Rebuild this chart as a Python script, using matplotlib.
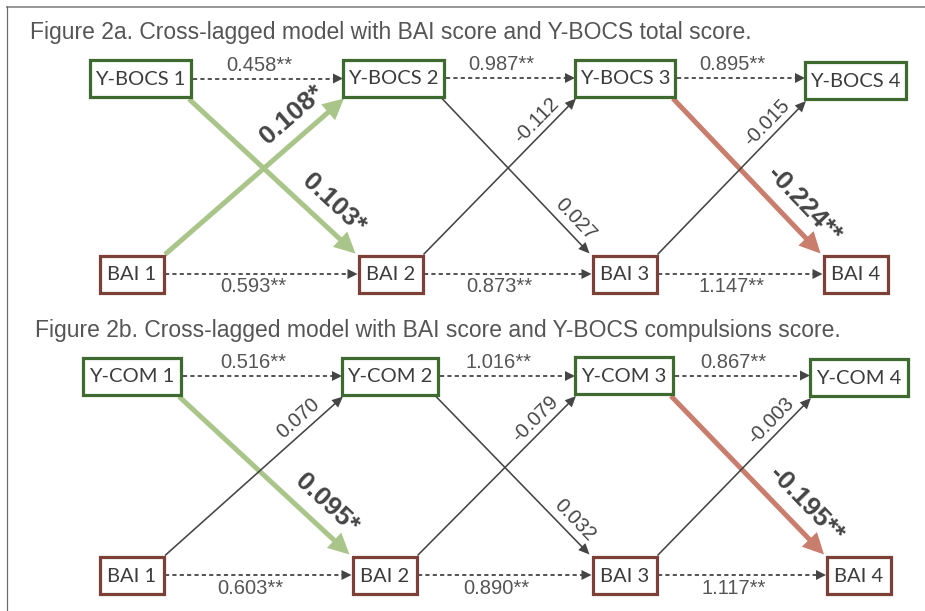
import numpy as np
import matplotlib
matplotlib.use("Agg")
import matplotlib.pyplot as plt
from matplotlib.patches import Rectangle, Polygon

# Data: node names and path coefficients
top_nodes_a = ["Y-BOCS 1", "Y-BOCS 2", "Y-BOCS 3", "Y-BOCS 4"]
top_nodes_b = ["Y-COM 1", "Y-COM 2", "Y-COM 3", "Y-COM 4"]
bai_nodes = ["BAI 1", "BAI 2", "BAI 3", "BAI 4"]

auto_top_a = [0.458, 0.987, 0.895]
auto_bai_a = [0.593, 0.873, 1.147]
cross_down_a = [0.103, 0.027, -0.224]   # Y-BOCS t -> BAI t+1
cross_up_a = [0.108, -0.112, -0.015]    # BAI t -> Y-BOCS t+1
auto_top_b = [0.516, 1.016, 0.867]
auto_bai_b = [0.603, 0.890, 1.117]
cross_down_b = [0.095, 0.032, -0.195]
cross_up_b = [0.070, -0.079, -0.003]

# significance stars
auto_stars = ["**", "**", "**"]
cross_down_stars_a = ["*", "", "**"]
cross_up_stars_a = ["*", "", ""]
cross_down_stars_b = ["*", "", "**"]
cross_up_stars_b = ["", "", ""]

title_a = "Figure 2a. Cross-lagged model with BAI score and Y-BOCS total score."
title_b = "Figure 2b. Cross-lagged model with BAI score and Y-BOCS compulsions score."

# Layout (pixel space) : box centres and sizes
top_cx_a = [140.5, 393.5, 625, 855.5]
top_cy_a = [78.5, 78, 78, 80.5]
top_w_a = [101, 101, 100, 101]
bai_cx_a = [132, 390.5, 624.5, 855.5]
bai_cy_a = [274, 274, 274, 274]
top_cx_b = [132, 390, 624, 859]
top_cy_b = [376, 376, 375.5, 377.5]
top_w_b = [98, 96, 98, 98]
bai_cx_b = [132, 384.5, 624.5, 859]
bai_cy_b = [575, 575, 575, 575]
bai_w = 64
box_h = 37

GREEN_BOX = "#3f6a2f"
RED_BOX = "#7d4038"
LIGHT_GREEN = "#a9c589"
SALMON = "#c97d6d"
DARK = "#454545"
TXT = "#555555"
PX = 0.72  # points per pixel at 100 dpi

fig = plt.figure(figsize=(9.25, 6.11), dpi=100)
ax = fig.add_axes([0, 0, 1, 1])
ax.set_xlim(0, 925)
ax.set_ylim(611, 0)
ax.axis("off")

# outer frame (top and left only)
ax.plot([6, 925], [6.5, 6.5], color="#9a9a9a", lw=2 * PX, solid_capstyle="butt")
ax.plot([6.5, 6.5], [6, 611], color="#6a6a6a", lw=1.2 * PX, solid_capstyle="butt")


def box(cx, cy, w, label, edge):
    ax.add_patch(Rectangle((cx - w / 2, cy - box_h / 2), w, box_h, facecolor="white",
                           edgecolor=edge, lw=3.2 * PX, zorder=5))
    ax.text(cx, cy + 1, label, ha="center", va="center", fontsize=14.5,
            family="Lato", color="#3c3c3c", zorder=6)


def arrow(p0, p1, color, width, head_len, head_half, dashed=False):
    p0 = np.array(p0, float)
    p1 = np.array(p1, float)
    d = p1 - p0
    u = d / np.hypot(*d)
    n = np.array([-u[1], u[0]])
    base = p1 - u * head_len
    ls = (0, (3.0 / (width * PX), 2.3 / (width * PX))) if dashed else "-"
    ax.plot([p0[0], base[0] + u[0]], [p0[1], base[1] + u[1]], color=color,
            lw=width * PX, ls=ls, solid_capstyle="butt", zorder=3)
    ax.add_patch(Polygon([p1, base + n * head_half, base - n * head_half],
                         closed=True, color=color, lw=0, zorder=4))


def fmt(v, stars):
    return f"{v:.3f}{stars}"


def cross(p0, p1, value, stars, going_down):
    sig = stars != ""
    if sig:
        color = LIGHT_GREEN if value > 0 else SALMON
        arrow(p0, p1, color, 5, 21, 10.5)
    else:
        arrow(p0, p1, DARK, 1.6, 11, 5)
    if going_down:
        frac = 0.78 if sig else 0.84
    else:
        frac = 0.79 if sig else 0.8
    p0 = np.array(p0, float)
    p1 = np.array(p1, float)
    d = p1 - p0
    u = d / np.hypot(*d)
    n = np.array([u[1], -u[0]])
    if n[1] > 0:
        n = -n
    off = 22 if sig else 13
    pos = p0 + d * frac + n * off
    ang = np.degrees(np.arctan2(-d[1], d[0]))
    ax.text(pos[0], pos[1], fmt(value, stars), rotation=ang, rotation_mode="anchor",
            ha="center", va="center", fontsize=19 if sig else 14.5,
            fontweight="bold" if sig else "normal", family="Liberation Sans",
            color=DARK, zorder=7)


def panel(title, ty, tx, top_nodes, top_cx, top_cy, top_w, bai_cx, bai_cy,
          auto_top, auto_bai, down, down_st, up, up_st):
    ax.text(tx, ty, title, ha="left", va="center", fontsize=16.5,
            family="Liberation Sans", color=TXT)
    for i in range(4):
        box(top_cx[i], top_cy[i], top_w[i], top_nodes[i], GREEN_BOX)
        box(bai_cx[i], bai_cy[i], bai_w, bai_nodes[i], RED_BOX)
    for i in range(3):
        # autoregressive paths (dashed)
        x0 = top_cx[i] + top_w[i] / 2 + 2
        x1 = top_cx[i + 1] - top_w[i + 1] / 2
        y = top_cy[i]
        arrow((x0, y), (x1, y), DARK, 1.8, 10, 5, dashed=True)
        ax.text((x0 + x1) / 2 - 9, y - 13, fmt(auto_top[i], auto_stars[i]), ha="center",
                va="center", fontsize=14.5, family="Liberation Sans", color=TXT)
        x0 = bai_cx[i] + bai_w / 2 + 1
        x1 = bai_cx[i + 1] - bai_w / 2 - 1
        y = bai_cy[i]
        arrow((x0, y), (x1, y), DARK, 1.8, 10, 5, dashed=True)
        ax.text((x0 + x1) / 2 - 8, y + 13, fmt(auto_bai[i], auto_stars[i]), ha="center",
                va="center", fontsize=14.5, family="Liberation Sans", color=TXT)
        # cross-lagged: top t -> BAI t+1
        s = (top_cx[i] + top_w[i] / 2 - 2, top_cy[i] + box_h / 2 + 2)
        e = (bai_cx[i + 1] - bai_w / 2 - 3, bai_cy[i + 1] - box_h / 2 - 2)
        cross(s, e, down[i], down_st[i], True)
        # cross-lagged: BAI t -> top t+1
        s = (bai_cx[i] + bai_w / 2 + 1, bai_cy[i] - box_h / 2 - 1)
        e = (top_cx[i + 1] - top_w[i + 1] / 2 + 1, top_cy[i + 1] + box_h / 2 + 2)
        cross(s, e, up[i], up_st[i], False)


panel(title_a, 32, 30, top_nodes_a, top_cx_a, top_cy_a, top_w_a, bai_cx_a, bai_cy_a,
      auto_top_a, auto_bai_a, cross_down_a, cross_down_stars_a, cross_up_a, cross_up_stars_a)
panel(title_b, 330, 35, top_nodes_b, top_cx_b, top_cy_b, top_w_b, bai_cx_b, bai_cy_b,
      auto_top_b, auto_bai_b, cross_down_b, cross_down_stars_b, cross_up_b, cross_up_stars_b)

fig.savefig("out.png", dpi=100, facecolor="white")
